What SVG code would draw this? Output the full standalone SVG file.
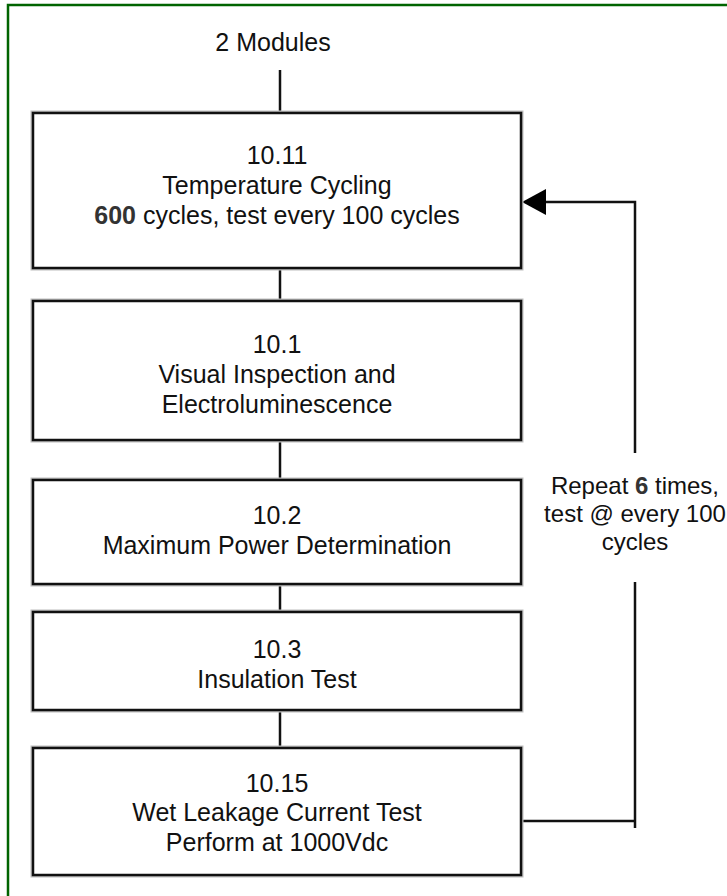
<svg xmlns="http://www.w3.org/2000/svg" width="727" height="896" viewBox="0 0 727 896">
<style>
.frame{fill:none;stroke:#006400;stroke-width:2.5}
.box{fill:#fff;stroke:#111;stroke-width:2.5}
.shadow{fill:none;stroke:#bdbdbd;stroke-width:5}
.ln{fill:none;stroke:#111;stroke-width:2.5}
text{font-family:"Liberation Sans",Arial,sans-serif;font-size:25px;fill:#111;text-anchor:middle}
.b{font-weight:bold;fill:#333}
.side{font-size:24px}
</style>
<rect width="727" height="896" fill="#fff"/>
<rect class="frame" x="8" y="5" width="740" height="900"/>
<text x="273" y="51">2 Modules</text>
<g id="connectors">
<line class="ln" x1="280" y1="70" x2="280" y2="113"/>
<line class="ln" x1="280" y1="268" x2="280" y2="301"/>
<line class="ln" x1="280" y1="440" x2="280" y2="480"/>
<line class="ln" x1="280" y1="584" x2="280" y2="612"/>
<line class="ln" x1="280" y1="710" x2="280" y2="748"/>
<polyline class="ln" points="521,821 635,821"/>
<line class="ln" x1="635" y1="828" x2="635" y2="582"/>
<polyline class="ln" points="635,453 635,202 546,202"/>
<path d="M522,202 L546,189 L546,215 Z" fill="#000"/>
</g>
<g id="n1">
<rect class="shadow" x="33" y="113" width="488" height="155"/>
<rect class="box" x="33" y="113" width="488" height="155"/>
<text x="277" y="164">10.11</text>
<text x="277" y="194">Temperature Cycling</text>
<text x="277" y="224"><tspan class="b">600</tspan> cycles, test every 100 cycles</text>
</g>
<g id="n2">
<rect class="shadow" x="33" y="301" width="488" height="139"/>
<rect class="box" x="33" y="301" width="488" height="139"/>
<text x="277" y="353">10.1</text>
<text x="277" y="383">Visual Inspection and</text>
<text x="277" y="413">Electroluminescence</text>
</g>
<g id="n3">
<rect class="shadow" x="33" y="480" width="488" height="104"/>
<rect class="box" x="33" y="480" width="488" height="104"/>
<text x="277" y="524">10.2</text>
<text x="277" y="554">Maximum Power Determination</text>
</g>
<g id="n4">
<rect class="shadow" x="33" y="612" width="488" height="98"/>
<rect class="box" x="33" y="612" width="488" height="98"/>
<text x="277" y="658">10.3</text>
<text x="277" y="688">Insulation Test</text>
</g>
<g id="n5">
<rect class="shadow" x="33" y="748" width="488" height="127"/>
<rect class="box" x="33" y="748" width="488" height="127"/>
<text x="277" y="792">10.15</text>
<text x="277" y="821">Wet Leakage Current Test</text>
<text x="277" y="851">Perform at 1000Vdc</text>
</g>
<g id="loop-label">
<text class="side" x="635" y="494">Repeat <tspan class="b">6</tspan> times,</text>
<text class="side" x="635" y="522">test @ every 100</text>
<text class="side" x="635" y="550">cycles</text>
</g>
</svg>
